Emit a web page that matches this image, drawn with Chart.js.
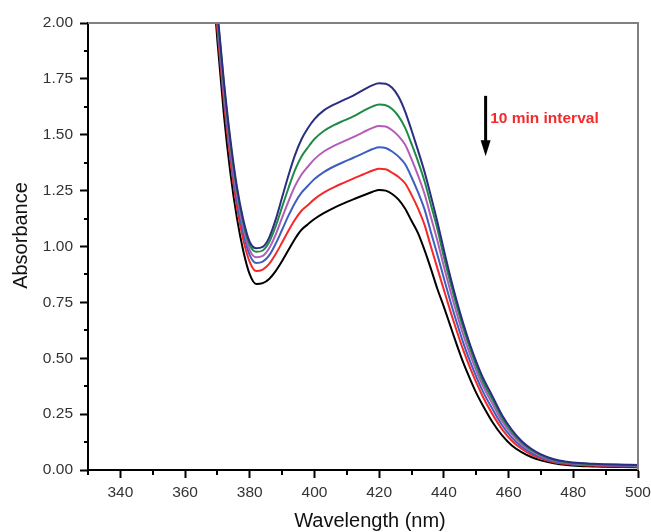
<!DOCTYPE html>
<html><head><meta charset="utf-8">
<script src="https://cdn.jsdelivr.net/npm/chart.js@4.4.1/dist/chart.umd.min.js"></script>
<style>html,body{margin:0;padding:0;background:#fff;}canvas{display:block;}</style>
</head><body>
<canvas id="c" width="651" height="532"></canvas>
<script>
// Wavelength grid (nm)
const wavelengths = [368,370,372,374,376,378,380,382,384,386,388,390,392,394,396,398,400,403,406,409,412,415,418,420,422,424,426,428,430,432,434,436,438,440,442,444,446,448,450,452,455,458,461,464,467,470,474,478,482,486,490,495,500];
// Absorbance series, top (navy) to bottom (black), 10 min interval
const absNavy = [2.40,2.05,1.74,1.48,1.27,1.12,1.02,0.992,0.998,1.04,1.12,1.22,1.32,1.41,1.48,1.53,1.57,1.61,1.635,1.655,1.675,1.70,1.722,1.73,1.728,1.71,1.67,1.605,1.52,1.43,1.335,1.225,1.11,0.985,0.865,0.755,0.655,0.565,0.485,0.415,0.33,0.245,0.18,0.13,0.095,0.07,0.048,0.037,0.031,0.028,0.026,0.024,0.022];
const absGreen = [2.39,2.04,1.725,1.465,1.256,1.106,1.006,0.976,0.982,1.020,1.090,1.177,1.263,1.343,1.403,1.444,1.481,1.518,1.543,1.563,1.582,1.606,1.627,1.635,1.632,1.615,1.582,1.532,1.459,1.381,1.293,1.186,1.078,0.953,0.839,0.732,0.634,0.546,0.467,0.397,0.315,0.233,0.171,0.124,0.090,0.067,0.046,0.035,0.029,0.026,0.024,0.023,0.021];
const absMagenta = [2.38,2.02,1.70,1.44,1.235,1.085,0.984,0.952,0.958,0.992,1.053,1.129,1.203,1.271,1.322,1.358,1.391,1.426,1.450,1.470,1.489,1.511,1.531,1.539,1.537,1.520,1.494,1.456,1.391,1.318,1.236,1.131,1.026,0.911,0.801,0.699,0.604,0.520,0.445,0.378,0.296,0.218,0.159,0.115,0.084,0.062,0.043,0.033,0.027,0.024,0.022,0.021,0.019];
const absBlue = [2.36,2.00,1.68,1.42,1.21,1.06,0.961,0.926,0.932,0.960,1.012,1.075,1.139,1.196,1.241,1.272,1.302,1.334,1.358,1.378,1.397,1.417,1.436,1.444,1.441,1.425,1.402,1.369,1.310,1.243,1.167,1.064,0.963,0.858,0.755,0.659,0.569,0.489,0.418,0.353,0.273,0.200,0.145,0.105,0.077,0.057,0.039,0.030,0.025,0.022,0.020,0.019,0.017];
const absRed = [2.34,1.97,1.65,1.39,1.18,1.03,0.93,0.89,0.897,0.922,0.966,1.018,1.072,1.121,1.160,1.186,1.212,1.242,1.265,1.285,1.304,1.322,1.340,1.348,1.346,1.330,1.311,1.283,1.231,1.171,1.098,0.999,0.902,0.806,0.711,0.621,0.536,0.460,0.392,0.329,0.250,0.182,0.131,0.095,0.069,0.051,0.035,0.027,0.022,0.020,0.018,0.016,0.015];
const absBlack = [2.30,1.92,1.59,1.33,1.13,0.98,0.875,0.832,0.836,0.855,0.89,0.935,0.985,1.035,1.075,1.10,1.123,1.15,1.173,1.193,1.211,1.228,1.245,1.253,1.25,1.235,1.21,1.17,1.115,1.06,0.985,0.90,0.81,0.73,0.645,0.56,0.48,0.41,0.345,0.29,0.215,0.155,0.11,0.08,0.058,0.043,0.030,0.022,0.018,0.016,0.014,0.013,0.012];

const xTicks = [340,360,380,400,420,440,460,480,500];
const xMinorTicks = [350,370,390,410,430,450,470,490];
const yTicks = [0,0.25,0.5,0.75,1.0,1.25,1.5,1.75,2.0];
const yMinorTicks = [0.125,0.375,0.625,0.875,1.125,1.375,1.625,1.875];

const xTitle = 'Wavelength (nm)';
const yTitle = 'Absorbance';
const annoText = '10 min interval';
const arrowX = 452.9, arrowTop = 1.674, arrowBottom = 1.404;
const textX = 454.3, textY = 1.573;

const seriesList = [
  {data: absNavy, color: '#2b2d80'},
  {data: absGreen, color: '#1f8a48'},
  {data: absMagenta, color: '#b45cb8'},
  {data: absBlue, color: '#3d5fbf'},
  {data: absRed, color: '#f42a2a'},
  {data: absBlack, color: '#000000'}
];

const datasets = seriesList.map(s => ({
  data: wavelengths.map((w, i) => ({x: w, y: s.data[i]})),
  borderColor: s.color,
  borderWidth: 2,
  pointRadius: 0,
  fill: false,
  cubicInterpolationMode: 'monotone'
}));

const FONT = '"Liberation Sans", Arial, sans-serif';

const framePlugin = {
  id: 'frame',
  afterDraw(chart) {
    const {ctx, chartArea: a, scales: {x, y}} = chart;
    ctx.save();
    ctx.strokeStyle = '#808080';
    ctx.lineWidth = 2;
    ctx.beginPath();
    ctx.moveTo(a.left, a.top);
    ctx.lineTo(a.right, a.top);
    ctx.lineTo(a.right, a.bottom);
    ctx.stroke();
    ctx.strokeStyle = '#000';
    ctx.lineWidth = 2;
    ctx.beginPath();
    yMinorTicks.forEach(v => { const py = Math.round(y.getPixelForValue(v)); ctx.moveTo(a.left - 4, py); ctx.lineTo(a.left, py); });
    xMinorTicks.forEach(v => { const px = Math.round(x.getPixelForValue(v)); ctx.moveTo(px, a.bottom); ctx.lineTo(px, a.bottom + 5); });
    ctx.moveTo(a.left, a.bottom); ctx.lineTo(a.left, a.bottom + 5);
    ctx.stroke();
    // arrow
    const ax = x.getPixelForValue(arrowX);
    const ay1 = y.getPixelForValue(arrowTop);
    const ay2 = y.getPixelForValue(arrowBottom);
    ctx.lineWidth = 3;
    ctx.beginPath();
    ctx.moveTo(ax, ay1);
    ctx.lineTo(ax, ay2 - 12);
    ctx.stroke();
    ctx.fillStyle = '#000';
    ctx.beginPath();
    ctx.moveTo(ax - 5, ay2 - 16);
    ctx.lineTo(ax + 5, ay2 - 16);
    ctx.lineTo(ax, ay2);
    ctx.closePath();
    ctx.fill();
    // annotation text
    ctx.fillStyle = '#f42a2a';
    ctx.font = 'bold 15.5px ' + FONT;
    ctx.textBaseline = 'middle';
    ctx.textAlign = 'left';
    ctx.fillText(annoText, x.getPixelForValue(textX), y.getPixelForValue(textY));
    // axis titles
    ctx.fillStyle = '#111';
    ctx.font = '20px ' + FONT;
    ctx.textAlign = 'center';
    ctx.textBaseline = 'middle';
    ctx.fillText(xTitle, (a.left + a.right) / 2 + 7, a.bottom + 51);
    ctx.translate(a.left - 67, (a.top + a.bottom) / 2 - 11);
    ctx.rotate(-Math.PI / 2);
    ctx.fillText(yTitle, 0, 0);
    ctx.restore();
  }
};

Chart.defaults.font.family = FONT;

new Chart(document.getElementById('c'), {
  type: 'line',
  data: {datasets},
  plugins: [framePlugin],
  options: {
    responsive: false,
    animation: false,
    devicePixelRatio: 1,
    layout: {padding: {left: 0, top: 23, right: 13, bottom: 0}},
    plugins: {legend: {display: false}, tooltip: {enabled: false}},
    scales: {
      x: {
        type: 'linear',
        min: 330, max: 500,
        afterBuildTicks: s => { s.ticks = xTicks.map(v => ({value: v})); },
        afterFit: s => { s.height = 62; s.paddingLeft = 0; s.paddingRight = 0; },
        grid: {drawOnChartArea: false, drawTicks: true, tickLength: 8, tickColor: '#000', tickWidth: 2},
        border: {display: true, color: '#000', width: 2},
        ticks: {color: '#333', font: {size: 15.5}, padding: 5, maxRotation: 0, autoSkip: false},
        title: {display: false}
      },
      y: {
        type: 'linear',
        min: 0, max: 2,
        afterBuildTicks: s => { s.ticks = yTicks.map(v => ({value: v})); },
        afterFit: s => { s.width = 88; s.paddingTop = 0; s.paddingBottom = 0; },
        grid: {drawOnChartArea: false, drawTicks: true, tickLength: 8, tickColor: '#000', tickWidth: 2},
        border: {display: true, color: '#000', width: 2},
        ticks: {color: '#333', font: {size: 15.5}, padding: 7, callback: v => Number(v).toFixed(2)},
        title: {display: false}
      }
    }
  }
});
</script>
</body></html>
